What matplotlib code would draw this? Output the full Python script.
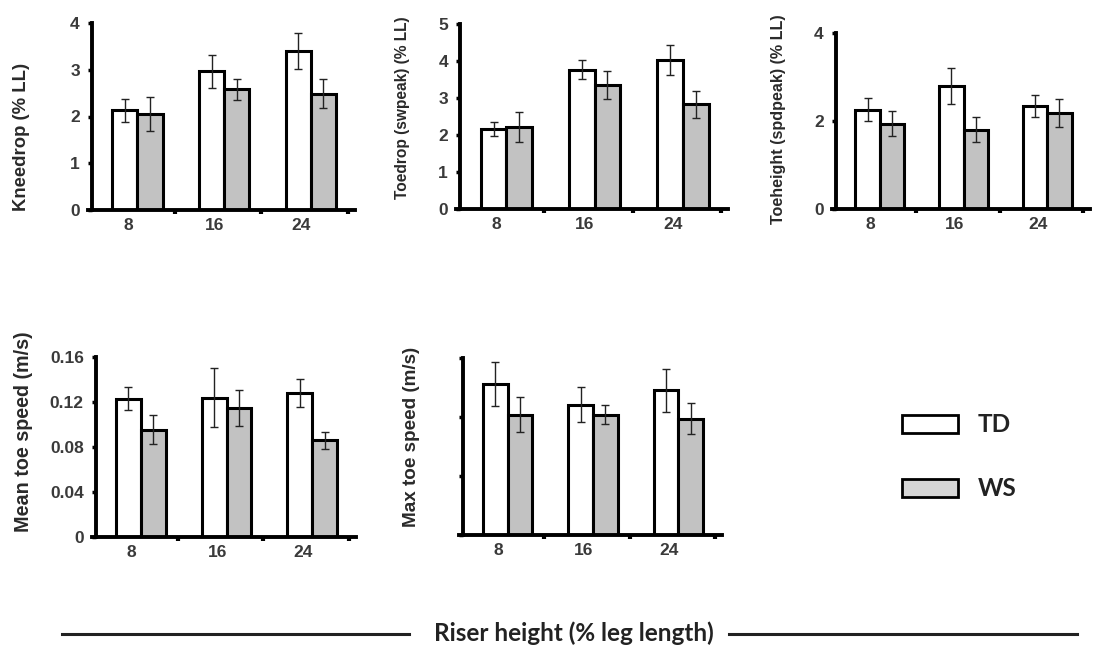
import matplotlib.pyplot as plt
import numpy as np

plt.rcParams['font.family'] = ['Liberation Sans', 'DejaVu Sans']
plt.rcParams['font.weight'] = 'bold'

heights = ['8', '16', '24']

knee_td = [2.13, 2.97, 3.40]
knee_td_err = [0.25, 0.35, 0.39]
knee_ws = [2.05, 2.58, 2.49]
knee_ws_err = [0.36, 0.23, 0.31]

toedrop_td = [2.16, 3.76, 4.03]
toedrop_td_err = [0.20, 0.26, 0.40]
toedrop_ws = [2.22, 3.35, 2.83]
toedrop_ws_err = [0.41, 0.37, 0.37]

toeheight_td = [2.26, 2.79, 2.35]
toeheight_td_err = [0.27, 0.41, 0.25]
toeheight_ws = [1.94, 1.80, 2.18]
toeheight_ws_err = [0.29, 0.28, 0.31]

meanspd_td = [0.123, 0.124, 0.128]
meanspd_td_err = [0.0105, 0.026, 0.0125]
meanspd_ws = [0.0955, 0.115, 0.086]
meanspd_ws_err = [0.013, 0.016, 0.0074]

# max toe speed axis has no numbers in the original, arbitrary units
maxspd_td = [2.56, 2.21, 2.45]
maxspd_td_err = [0.37, 0.30, 0.37]
maxspd_ws = [2.04, 2.04, 1.97]
maxspd_ws_err = [0.30, 0.16, 0.26]

W, H = 1095, 647
fig = plt.figure(figsize=(W / 100, H / 100), dpi=100)


def panel(box, td, tderr, ws, wserr, ylim, yticks, ylabel, lab_xy, lab_size, show_yticklabels=True):
    l, r, t, b = box
    ax = fig.add_axes([l / W, 1 - b / H, (r - l) / W, (b - t) / H])
    x = np.arange(3)
    c = x + 0.57
    w = 0.29
    ekw = dict(elinewidth=1, capthick=1, ecolor='#222222')
    ax.bar(c - w / 2, td, w, yerr=tderr, color='white', edgecolor='black',
           linewidth=2.2, capsize=3, error_kw=ekw)
    ax.bar(c + w / 2, ws, w, yerr=wserr, color='#c2c2c2', edgecolor='black',
           linewidth=2.2, capsize=3, error_kw=ekw)
    ax.set_xlim(0, 3.08)
    ax.set_ylim(*ylim)
    ax.spines['left'].set_position(('data', 0.05))
    for s in ['left', 'bottom']:
        ax.spines[s].set_linewidth(2.8)
    ax.spines['top'].set_visible(False)
    ax.spines['right'].set_visible(False)
    ax.set_xticks([1, 2, 3])
    ax.set_xticklabels([])
    ax.set_xticks(x + 0.46, heights, minor=True)
    ax.tick_params(axis='x', which='major', length=3, width=3, direction='out')
    ax.tick_params(axis='x', which='minor', length=0, labelsize=12.5, pad=6,
                   labelcolor='#3a3a3a')
    ax.set_yticks(yticks)
    if show_yticklabels:
        ax.set_yticklabels([('%g' % v) for v in yticks])
    else:
        ax.set_yticklabels([])
    ax.tick_params(axis='y', length=3, width=2.5, labelsize=12.5, pad=6,
                   labelcolor='#3a3a3a')
    fig.text(lab_xy[0] / W, 1 - lab_xy[1] / H, ylabel, rotation=90, ha='center', va='center',
             fontsize=lab_size, color='#2a2a2a')
    return ax


panel((88, 355, 23, 210), knee_td, knee_td_err, knee_ws, knee_ws_err,
      (0, 4), [0, 1, 2, 3, 4], 'Kneedrop (% LL)', (22, 137), 13.3)
panel((456, 728, 24, 209), toedrop_td, toedrop_td_err, toedrop_ws, toedrop_ws_err,
      (0, 5), [0, 1, 2, 3, 4, 5], 'Toedrop (swpeak) (% LL)', (403, 108), 11.2)
panel((832, 1090, 33, 209), toeheight_td, toeheight_td_err, toeheight_ws, toeheight_ws_err,
      (0, 4), [0, 2, 4], 'Toeheight (spdpeak) (% LL)', (779, 119), 11.6)
panel((92, 356, 357, 537), meanspd_td, meanspd_td_err, meanspd_ws, meanspd_ws_err,
      (0, 0.16), [0, 0.04, 0.08, 0.12, 0.16], 'Mean toe speed (m/s)', (24, 432), 14.2)
panel((459, 722, 358, 535), maxspd_td, maxspd_td_err, maxspd_ws, maxspd_ws_err,
      (0, 3), [0, 1, 2, 3], 'Max toe speed (m/s)', (412, 437), 13.6, show_yticklabels=False)

# legend
leg = fig.add_axes([0, 0, 1, 1], facecolor='none')
leg.set_xlim(0, W)
leg.set_ylim(H, 0)
leg.axis('off')
leg.add_patch(plt.Rectangle((902, 415), 56, 18, facecolor='white', edgecolor='black', linewidth=2))
leg.add_patch(plt.Rectangle((902, 479), 56, 18, facecolor='#d6d6d6', edgecolor='black', linewidth=2))
leg.text(978, 424, 'TD', fontsize=17.5, va='center', family=['Lato', 'DejaVu Sans'],
         color='#222222')
leg.text(978, 488, 'WS', fontsize=17.5, va='center', family=['Lato', 'DejaVu Sans'],
         color='#222222')

# common x label with lines either side
leg.plot([62, 409], [634, 634], color='#222222', linewidth=2.2)
leg.plot([729, 1077], [634, 634], color='#222222', linewidth=2.2)
leg.text(574, 633, 'Riser height (% leg length)', fontsize=17.5, ha='center', va='center',
         family=['Lato', 'DejaVu Sans'], color='#222222')

fig.savefig('out.png', dpi=100)
